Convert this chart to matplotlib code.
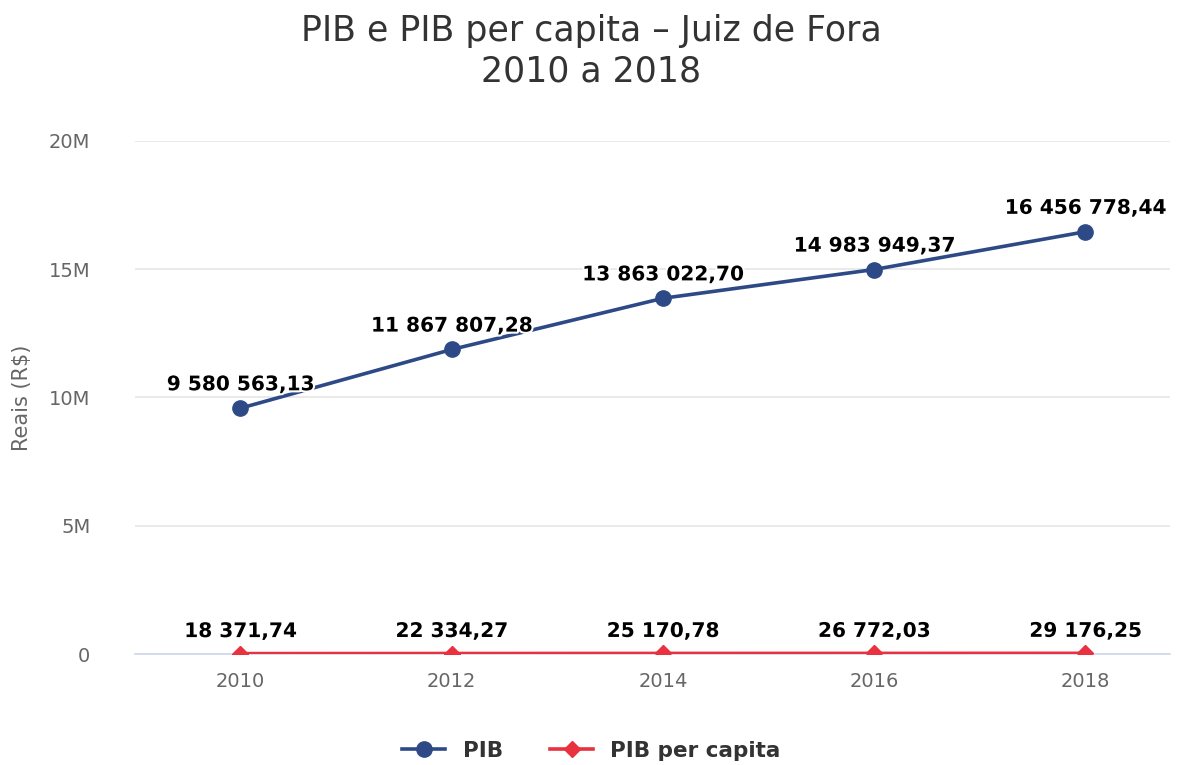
import matplotlib.pyplot as plt
import matplotlib.patheffects as pe
import numpy as np

anos = ['2010', '2012', '2014', '2016', '2018']
pib = [9580563.13, 11867807.28, 13863022.70, 14983949.37, 16456778.44]
pib_per_capita = [18371.74, 22334.27, 25170.78, 26772.03, 29176.25]
y_ticks = [0, 5e6, 10e6, 15e6, 20e6]
y_tick_labels = ['0', '5M', '10M', '15M', '20M']

AZUL = '#2d4a86'
VERMELHO = '#e8323f'
CINZA = '#666666'


def fmt_br(v):
    # 9580563.13 -> "9 580 563,13"
    inteiro, dec = f'{v:,.2f}'.split('.')
    return inteiro.replace(',', ' ') + ',' + dec


fig = plt.figure(figsize=(11.83, 7.65), dpi=100)
ax = fig.add_axes([0.114, 0.145, 0.875, 0.671])

x = np.arange(len(anos))
halo = [pe.withStroke(linewidth=3, foreground='white')]

ax.plot(x, pib, color=AZUL, linewidth=2.6, marker='o', markersize=11,
        label='PIB', zorder=4)
ax.plot(x, pib_per_capita, color=VERMELHO, linewidth=2.6, marker='D', markersize=8,
        label='PIB per capita', zorder=5)

for xi, v in zip(x, pib):
    ax.annotate(fmt_br(v), (xi, v), xytext=(0, 10), textcoords='offset points',
                ha='center', va='bottom', fontsize=14.5, fontweight='bold',
                color='black', path_effects=halo, zorder=6)
for xi, v in zip(x, pib_per_capita):
    ax.annotate(fmt_br(v), (xi, v), xytext=(0, 9), textcoords='offset points',
                ha='center', va='bottom', fontsize=14.5, fontweight='bold',
                color='black', path_effects=halo, zorder=6)

ax.set_xlim(-0.5, 4.40)
ax.set_ylim(0, 20e6)
ax.set_xticks(x)
ax.set_xticklabels(anos)
ax.set_yticks(y_ticks)
ax.set_yticklabels(y_tick_labels)
ax.tick_params(axis='both', length=0, labelsize=14, labelcolor=CINZA)
ax.tick_params(axis='x', pad=13)
ax.tick_params(axis='y', pad=32)
ax.grid(axis='y', color='#e6e6e6', linewidth=1.2, zorder=0)
ax.set_axisbelow(True)
for s in ['top', 'right', 'left']:
    ax.spines[s].set_visible(False)
ax.spines['bottom'].set_color('#ccd6eb')
ax.spines['bottom'].set_linewidth(1.2)

ax.set_ylabel('Reais (R$)', fontsize=15, color=CINZA, labelpad=12)

fig.suptitle('PIB e PIB per capita – Juiz de Fora\n2010 a 2018', fontsize=25,
             color='#333333', y=0.982, linespacing=1.25)

fig.legend(loc='lower center', bbox_to_anchor=(0.5, -0.02), ncol=2, frameon=False,
           prop={'size': 15.5, 'weight': 'bold'}, handlelength=2.0, columnspacing=2.2,
           labelcolor='#333333')

fig.savefig('out.png', dpi=100)
